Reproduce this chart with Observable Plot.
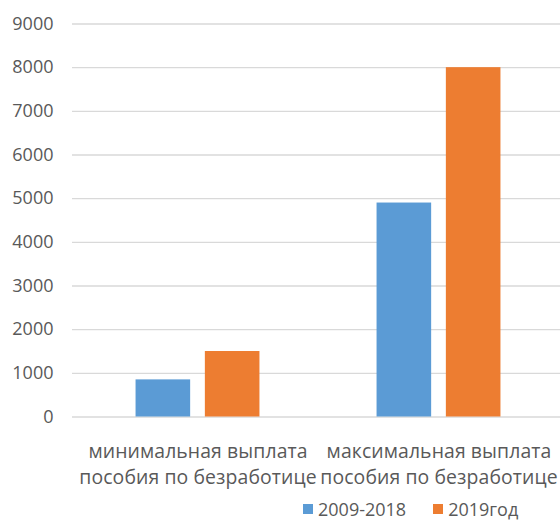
<!DOCTYPE html>
<html>
<head>
<meta charset="utf-8">
<script src="https://cdn.jsdelivr.net/npm/d3@7"></script>
<script src="https://cdn.jsdelivr.net/npm/@observablehq/plot@0.6"></script>
<style>
  html, body { margin: 0; padding: 0; background: #fff; }
  #chart { width: 560px; }
  g[aria-label="x-axis tick label"] text { letter-spacing: 0.1px; }
  .legend { display: flex; justify-content: flex-start; align-items: center; height: 29px;
            font-family: "Open Sans", sans-serif; font-size: 18px; color: #595959; padding-left: 303px; box-sizing: border-box; }
  .legend .item { display: flex; align-items: center; margin-right: 27px; }
  .legend .sw { width: 10px; height: 10px; margin-right: 5px; }
</style>
</head>
<body>
<div id="chart"></div>
<script>
const categories = ["минимальная выплата\nпособия по безработице", "максимальная выплата\nпособия по безработице"];
const seriesNames = ["2009-2018", "2019год"];
const values2009_2018 = [850, 4900];
const values2019 = [1500, 8000];
const yTicks = [0, 1000, 2000, 3000, 4000, 5000, 6000, 7000, 8000, 9000];
const colors = ["#5B9BD5", "#ED7D31"];

const rows = [];
categories.forEach((c, i) => {
  rows.push({category: c, series: seriesNames[0], value: values2009_2018[i]});
  rows.push({category: c, series: seriesNames[1], value: values2019[i]});
});

const band = 241, barW = 54.6, gap = 14.7;
const outer = (band - 2 * barW - gap) / 2;

const chart = Plot.plot({
  width: 560,
  height: 494,
  marginLeft: 72,
  marginRight: 0,
  marginTop: 23.5,
  marginBottom: 77.5,
  style: {fontFamily: "Open Sans, sans-serif", color: "#595959", background: "#fff"},
  x: {domain: categories, range: [77, 559], padding: 0, axis: null},
  y: {domain: [0, 9000], axis: null},
  color: {domain: seriesNames, range: colors},
  marks: [
    Plot.ruleY(yTicks, {stroke: "#d9d9d9", strokeWidth: 1.3}),
    Plot.barY(rows.filter(d => d.series === seriesNames[0]), {
      x: "category", y: "value", fill: "series",
      insetLeft: outer, insetRight: band - outer - barW
    }),
    Plot.barY(rows.filter(d => d.series === seriesNames[1]), {
      x: "category", y: "value", fill: "series",
      insetLeft: outer + barW + gap, insetRight: outer
    }),
    Plot.axisY({ticks: yTicks, tickSize: 0, tickPadding: 19, fontSize: 18, tickFormat: d => String(d), fill: "#595959", label: null}),
    Plot.axisX({tickSize: 0, tickPadding: 22.5, fontSize: 19.4, lineHeight: 1.34, fill: "#595959", tickFormat: d => d, label: null})
  ]
});
document.getElementById("chart").appendChild(chart);

const legend = document.createElement("div");
legend.className = "legend";
seriesNames.forEach((s, i) => {
  const item = document.createElement("div");
  item.className = "item";
  const sw = document.createElement("span");
  sw.className = "sw";
  sw.style.background = colors[i];
  const t = document.createElement("span");
  t.textContent = s;
  item.appendChild(sw);
  item.appendChild(t);
  legend.appendChild(item);
});
document.getElementById("chart").appendChild(legend);
</script>
</body>
</html>
